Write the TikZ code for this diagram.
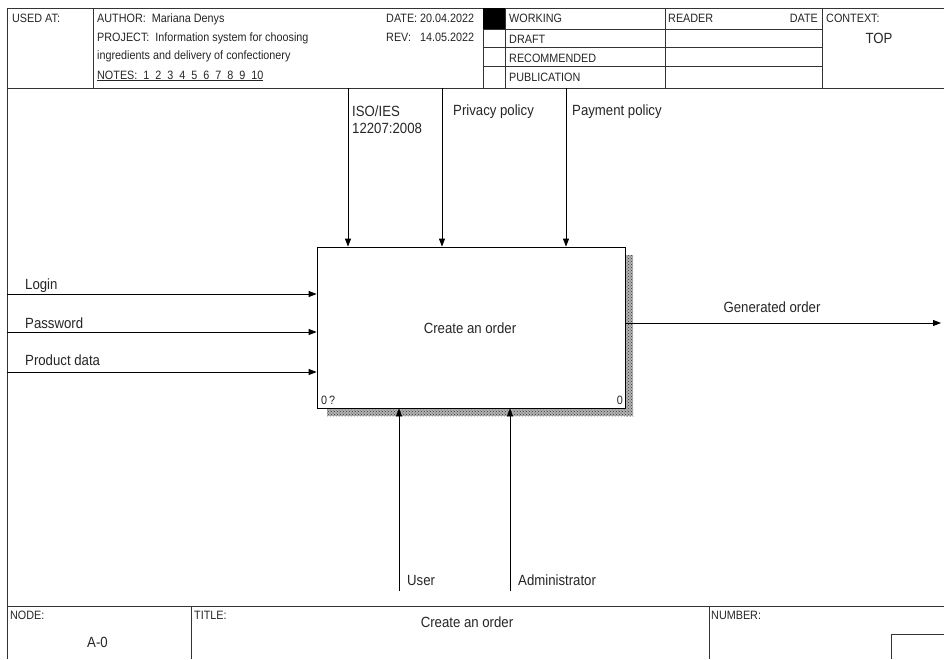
\documentclass[tikz,border=0pt]{standalone}
\usepackage{fontspec}
\setmainfont{Liberation Sans}
\usetikzlibrary{arrows.meta,patterns}
\newcommand{\tall}[1]{\scalebox{1}[1.12]{#1}}
\begin{document}
\begin{tikzpicture}[x=1pt,y=-1pt,
  frame/.style={line width=0.8pt,black!80},
  thin/.style={line width=0.6pt,black!80},
  lbl/.style={inner sep=0pt,anchor=base west,font=\fontsize{13.2}{15}\selectfont,text=black!85},
  lblc/.style={inner sep=0pt,anchor=base,font=\fontsize{13.2}{15}\selectfont,text=black!85},
  sm/.style={inner sep=0pt,anchor=base west,font=\fontsize{10.8}{12}\selectfont,text=black!85},
  arr/.style={line width=0.8pt,black,-{Triangle[length=8pt,width=6pt]}},
  shadow/.style={fill=black!30,postaction={pattern=crosshatch dots,pattern color=black!80},draw=none},
  actbox/.style={draw,line width=0.8pt,fill=white,minimum width=308pt,minimum height=161pt,inner sep=0pt}]
\useasboundingbox (0,0) rectangle (944,659);
\fill[white] (0,0) rectangle (944,659);
% ---------- header ----------
\draw[frame] (944,8) -- (7,8) -- (7,659);
\draw[frame] (7,88) -- (944,88);
\draw[thin] (93,8) -- (93,88);
\draw[thin] (483,8) -- (483,88);
\draw[thin] (505,8) -- (505,88);
\draw[thin] (665,8) -- (665,88);
\draw[thin] (822,8) -- (822,88);
\fill[black] (483,8) rectangle (505,29);
\draw[thin] (483,29) -- (822,29);
\draw[thin] (483,47) -- (822,47);
\draw[thin] (483,66) -- (822,66);
\node[sm] (usedat) at (12,22) {\tall{USED AT:}};
\node[sm] (author) at (97,22) {\tall{AUTHOR:\ \ Mariana Denys}};
\node[sm] (project) at (97,41) {\tall{PROJECT:\ \ Information system for choosing}};
\node[sm] (project2) at (97,59) {\tall{ingredients and delivery of confectionery}};
\node[sm] (notes) at (97,79) {\tall{\underline{NOTES:\ \ 1\ \ 2\ \ 3\ \ 4\ \ 5\ \ 6\ \ 7\ \ 8\ \ 9\ \ 10}}};
\node[sm] (date) at (386,22) {\tall{DATE:\ 20.04.2022}};
\node[sm] (rev) at (386,41) {\tall{REV:\ \ \ 14.05.2022}};
\node[sm] (working) at (509,22) {\tall{WORKING}};
\node[sm] (draft) at (509,43) {\tall{DRAFT}};
\node[sm] (recom) at (509,62) {\tall{RECOMMENDED}};
\node[sm] (publ) at (509,81) {\tall{PUBLICATION}};
\node[sm] (reader) at (668,22) {\tall{READER}};
\node[sm,anchor=base east] (rdate) at (818,22) {\tall{DATE}};
\node[sm] (context) at (826,22) {\tall{CONTEXT:}};
\node[lblc] (top) at (879,43) {\tall{TOP}};
% ---------- footer ----------
\draw[frame] (7,606) -- (944,606);
\draw[thin] (191,606) -- (191,659);
\draw[thin] (709,606) -- (709,659);
\draw[thin] (891,659) -- (891,634) -- (944,634);
\node[sm] (nodel) at (10,619) {\tall{NODE:}};
\node[lbl] (nodenum) at (87,647) {\tall{A-0}};
\node[sm] (titlel) at (194,619) {\tall{TITLE:}};
\node[lblc] (title) at (467,627) {\tall{Create an order}};
\node[sm] (numberl) at (711,619) {\tall{NUMBER:}};
% ---------- activity ----------
\fill[shadow] (625,255) rectangle (633,416);
\fill[shadow] (327,408) rectangle (633,416);
\node[actbox] (act) at (471,327.5) {};
\node[lblc] (acttext) at (470,333) {\tall{Create an order}};
\node[sm] (actl) at (321,404) {\tall{0\,?}};
\node[sm,anchor=base east] (actr) at (623,404) {\tall{0}};
% inputs
\coordinate (in1) at (7,294);
\coordinate (in2) at (7,332);
\coordinate (in3) at (7,372);
\draw[arr] (in1) -- (in1 -| act.west);
\draw[arr] (in2) -- (in2 -| act.west);
\draw[arr] (in3) -- (in3 -| act.west);
\node[lbl] (login) at (25,289) {\tall{Login}};
\node[lbl] (password) at (25,328) {\tall{Password}};
\node[lbl] (pdata) at (25,365) {\tall{Product data}};
% controls
\coordinate (c1) at (348,88);
\coordinate (c2) at (442,88);
\coordinate (c3) at (566,88);
\draw[arr] (c1) -- (c1 |- act.north);
\draw[arr] (c2) -- (c2 |- act.north);
\draw[arr] (c3) -- (c3 |- act.north);
\node[lbl] (iso1) at (352,116) {\tall{ISO/IES}};
\node[lbl] (iso2) at (352,133) {\tall{12207:2008}};
\node[lbl] (privacy) at (453,115) {\tall{Privacy policy}};
\node[lbl] (payment) at (572,115) {\tall{Payment policy}};
% output
\coordinate (out) at (941,323);
\draw[arr] (act.east |- out) -- (out);
\node[lblc] (gen) at (772,312) {\tall{Generated order}};
% mechanisms
\coordinate (m1) at (399,591);
\coordinate (m2) at (510,591);
\draw[arr] (m1) -- (m1 |- act.south);
\draw[arr] (m2) -- (m2 |- act.south);
\node[lbl] (user) at (407,585) {\tall{User}};
\node[lbl] (admin) at (518,585) {\tall{Administrator}};
\end{tikzpicture}
\end{document}
